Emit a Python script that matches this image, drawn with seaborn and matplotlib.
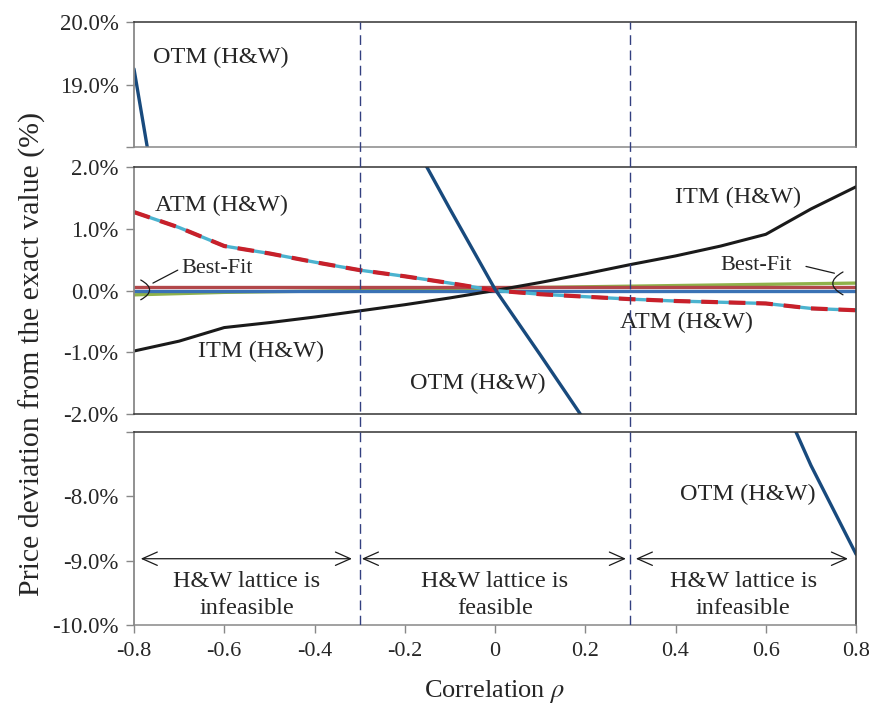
"""
Price deviation vs correlation, broken y-axis in three panels.
"""
import matplotlib
matplotlib.use("Agg")
import matplotlib.pyplot as plt
import seaborn as sns

# --- data ---
rho = [-0.8, -0.7, -0.6, -0.5, -0.4, -0.3, -0.2, -0.1, 0.0,
       0.1, 0.2, 0.3, 0.4, 0.5, 0.6, 0.7, 0.8]

otm_hw = [19.25, 15.0, 11.6, 8.7, 6.3, 4.3, 2.65, 1.32, 0.02,
          -1.04, -2.12, -3.15, -4.1, -5.0, -5.95, -7.52, -8.9]
itm_hw = [-0.98, -0.82, -0.60, -0.52, -0.43, -0.33, -0.23, -0.12, 0.0,
          0.13, 0.27, 0.42, 0.56, 0.72, 0.91, 1.32, 1.68]
atm_hw = [1.27, 1.02, 0.72, 0.60, 0.46, 0.33, 0.23, 0.12, 0.0,
          -0.06, -0.10, -0.14, -0.17, -0.19, -0.21, -0.29, -0.32]
atm_hw2 = [1.27, 1.02, 0.72, 0.60, 0.46, 0.33, 0.23, 0.12, 0.0,
           -0.06, -0.10, -0.14, -0.17, -0.19, -0.21, -0.29, -0.32]
fit_red = [0.05, 0.05, 0.05, 0.05, 0.05, 0.05, 0.05, 0.05, 0.05,
           0.05, 0.05, 0.05, 0.05, 0.05, 0.05, 0.05, 0.05]
fit_blue = [0.0, 0.0, 0.0, 0.0, 0.0, 0.0, 0.0, 0.0, 0.0,
            0.0, 0.0, 0.0, 0.0, 0.0, 0.0, 0.0, 0.0]
fit_green = [-0.07, -0.05, -0.03, -0.02, -0.01, 0.0, 0.01, 0.02, 0.04,
             0.05, 0.06, 0.07, 0.08, 0.09, 0.10, 0.11, 0.12]

x_ticks = [-0.8, -0.6, -0.4, -0.2, 0.0, 0.2, 0.4, 0.6, 0.8]
x_labels = ["-0.8", "-0.6", "-0.4", "-0.2", "0", "0.2", "0.4", "0.6", "0.8"]
top_ticks = [19.0, 20.0]
mid_ticks = [-2.0, -1.0, 0.0, 1.0, 2.0]
bot_ticks = [-10.0, -9.0, -8.0]
regions = ["H&W lattice is\ninfeasible", "H&W lattice is\nfeasible",
           "H&W lattice is\ninfeasible"]
region_centers = [-0.55, 0.0, 0.55]
region_spans = [(-0.785, -0.317), (-0.295, 0.29), (0.312, 0.782)]
bounds = [-0.3, 0.3]

sns.set_theme(style="white")
plt.rcParams["font.family"] = ["Liberation Serif", "DejaVu Serif"]
plt.rcParams["mathtext.fontset"] = "stix"

fig = plt.figure(figsize=(8.7, 7.07), dpi=100)
L, W = 0.154, 0.830
ax_top = fig.add_axes([L, 0.792, W, 0.1768])
ax_mid = fig.add_axes([L, 0.4144, W, 0.3494])
ax_bot = fig.add_axes([L, 0.116, W, 0.273])
ax_ov = fig.add_axes([L, 0.116, W, 0.9689 - 0.116])

C_OTM = "#184a7d"
C_CYAN = "#4bb3cf"
C_RED = "#c8202a"

for ax in (ax_top, ax_mid, ax_bot):
    sns.lineplot(x=rho, y=fit_green, ax=ax, color="#8fb24a", lw=2.4)
    sns.lineplot(x=rho, y=fit_red, ax=ax, color="#b2474a", lw=2.4)
    sns.lineplot(x=rho, y=fit_blue, ax=ax, color="#3a72b5", lw=2.4)
    sns.lineplot(x=rho, y=itm_hw, ax=ax, color="#1a1a1a", lw=2.2)
    sns.lineplot(x=rho, y=atm_hw, ax=ax, color=C_CYAN, lw=2.4)
    sns.lineplot(x=rho, y=atm_hw2, ax=ax, color=C_RED, lw=3.0,
                 linestyle=(0, (4, 2.6)))
    sns.lineplot(x=rho, y=otm_hw, ax=ax, color=C_OTM, lw=2.4)
    ax.set_xlim(-0.8, 0.8)
    ax.set_xlabel("")
    ax.set_ylabel("")
    for s in ("top", "right", "bottom"):
        ax.spines[s].set_color("#333333")
        ax.spines[s].set_linewidth(1.1)
    ax.spines["left"].set_color("#888888")
    ax.spines["left"].set_linewidth(1.3)
    ax.tick_params(axis="y", which="both", left=True, direction="out",
                   length=6, width=1.0, color="#888888", labelsize=16.5,
                   pad=5)

ax_top.set_ylim(18.0, 20.0)
ax_top.set_yticks([18.0] + top_ticks)
ax_top.set_yticklabels([""] + ["%.1f%%" % v for v in top_ticks])
ax_top.set_xticks([])
ax_top.spines["bottom"].set_color("#888888")

ax_mid.set_ylim(-2.0, 2.0)
ax_mid.set_yticks(mid_ticks)
ax_mid.set_yticklabels(["%.1f%%" % v for v in mid_ticks])
ax_mid.set_xticks([])

ax_bot.set_ylim(-10.0, -7.0)
ax_bot.set_yticks(bot_ticks + [-7.0])
ax_bot.set_yticklabels(["%.1f%%" % v for v in bot_ticks] + [""])
ax_bot.set_xticks(x_ticks)
ax_bot.set_xticklabels(x_labels)
ax_bot.spines["bottom"].set_color("#888888")
ax_bot.tick_params(axis="x", bottom=True, direction="out", length=6,
                   width=1.0, color="#888888", labelsize=16, pad=6)

# overlay for the feasibility boundaries crossing all panels
ax_ov.set_xlim(-0.8, 0.8)
ax_ov.set_ylim(0, 1)
ax_ov.axis("off")
ax_ov.patch.set_alpha(0)
for b in bounds:
    ax_ov.axvline(b, color="#334080", lw=1.0, linestyle=(0, (7, 4)))

# labels
fs = 17.5
ax_top.text(-0.758, 19.44, "OTM (H&W)", fontsize=fs, va="center", ha="left")
ax_mid.text(-0.753, 1.38, "ATM (H&W)", fontsize=fs, va="center", ha="left")
ax_mid.text(-0.658, -0.98, "ITM (H&W)", fontsize=fs, va="center", ha="left")
ax_mid.text(-0.188, -1.50, "OTM (H&W)", fontsize=fs, va="center", ha="left")
ax_mid.text(0.399, 1.51, "ITM (H&W)", fontsize=fs, va="center", ha="left")
ax_mid.text(0.277, -0.51, "ATM (H&W)", fontsize=fs, va="center", ha="left")
ax_bot.text(0.41, -7.97, "OTM (H&W)", fontsize=fs, va="center", ha="left")

# Best-Fit callouts: text, leader line, curved bracket
thin = dict(arrowstyle="-", color="#1a1a1a", lw=0.9, shrinkA=0, shrinkB=0)
ax_mid.text(-0.695, 0.36, "Best-Fit", fontsize=16, va="center", ha="left")
ax_mid.annotate("", xy=(-0.758, 0.12), xytext=(-0.703, 0.33),
                arrowprops=thin)
ax_mid.annotate("", xy=(-0.785, 0.17), xytext=(-0.785, -0.15),
                arrowprops=dict(thin, connectionstyle="arc3,rad=0.9"))
ax_mid.text(0.499, 0.40, "Best-Fit", fontsize=16, va="center", ha="left")
ax_mid.annotate("", xy=(0.752, 0.28), xytext=(0.689, 0.39),
                arrowprops=thin)
ax_mid.annotate("", xy=(0.771, -0.07), xytext=(0.771, 0.30),
                arrowprops=dict(thin, connectionstyle="arc3,rad=0.9"))

# feasibility regions
for (x0, x1), xc, txt in zip(region_spans, region_centers, regions):
    ax_bot.annotate("", xy=(x0, -8.97), xytext=(x1, -8.97),
                    arrowprops=dict(arrowstyle="<->,head_length=0.9,head_width=0.4",
                                    color="#1a1a1a", lw=0.9,
                                    shrinkA=0, shrinkB=0))
    ax_bot.text(xc, -9.53, txt, fontsize=fs, ha="center", va="center",
                linespacing=1.4)

fig.text(0.037, 0.50, "Price deviation from the exact value (%)",
         rotation=90, fontsize=21.5, ha="center", va="center")
fig.text(0.569, 0.022, r"Correlation $\rho$", fontsize=19,
         ha="center", va="center")

fig.savefig("out.png", dpi=100)
